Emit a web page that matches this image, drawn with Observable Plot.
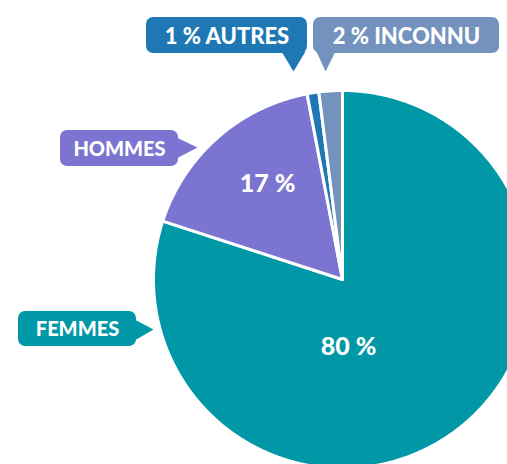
<!DOCTYPE html>
<html><head><meta charset="utf-8">
<script src="https://cdn.jsdelivr.net/npm/d3@7"></script>
<script src="https://cdn.jsdelivr.net/npm/@observablehq/plot@0.6"></script>
<style>
html,body{margin:0;padding:0;background:#fff;}
svg{font-family:Lato,"Open Sans",sans-serif;}
</style>
</head><body>
<div id="chart"></div>
<script>
// Data
const categories = ["FEMMES", "HOMMES", "AUTRES", "INCONNU"];
const values = [80, 17, 1, 2];
const colors = ["#0097A7", "#7B74D0", "#1F78B4", "#7392BE"];
const percentLabels = ["80 %", "17 %", "1 %", "2 %"];

// Layout (pixel space)
const W = 507, H = 464;
const cx = 342, cy = 279, R = 189;
const callouts = [
  {cat: "FEMMES",  text: "FEMMES",      x1: 18,  x2: 136, y1: 311, y2: 346, tip: [153, 329], base: [[134, 319], [134, 340]]},
  {cat: "HOMMES",  text: "HOMMES",      x1: 60,  x2: 178, y1: 130, y2: 166, tip: [197, 147], base: [[176, 137], [176, 158]]},
  {cat: "AUTRES",  text: "1 % AUTRES",  x1: 146, x2: 307, y1: 17,  y2: 53,  tip: [293, 71],  base: [[281, 51], [305, 51]]},
  {cat: "INCONNU", text: "2 % INCONNU", x1: 313, x2: 499, y1: 17,  y2: 53,  tip: [325, 71],  base: [[316, 51], [335, 51]]}
];
const insideLabels = [
  {cat: "FEMMES", x: 348, y: 346},
  {cat: "HOMMES", x: 267, y: 183}
];

const total = d3.sum(values);
const colorOf = Object.fromEntries(categories.map((c, i) => [c, colors[i]]));
const pctOf = Object.fromEntries(categories.map((c, i) => [c, percentLabels[i]]));

// slices: clockwise from 12 o'clock
let acc = 0;
const slices = categories.map((c, i) => {
  const a0 = acc / total * 2 * Math.PI;
  acc += values[i];
  const a1 = acc / total * 2 * Math.PI;
  const pts = [{x: cx, y: cy}];
  const n = Math.max(2, Math.ceil((a1 - a0) / (Math.PI / 360)));
  for (let k = 0; k <= n; k++) {
    const a = a0 + (a1 - a0) * k / n;
    pts.push({x: cx + R * Math.sin(a), y: cy - R * Math.cos(a)});
  }
  pts.push({x: cx, y: cy});
  return {cat: c, color: colors[i], pts};
});

const marks = [];
for (const s of slices) {
  marks.push(Plot.line(s.pts, {x: "x", y: "y", fill: s.color, stroke: "white", strokeWidth: 3, strokeLinejoin: "round"}));
}
for (const c of callouts) {
  const col = colorOf[c.cat];
  marks.push(Plot.rect([c], {x1: "x1", x2: "x2", y1: "y1", y2: "y2", rx: 7, fill: col}));
  const tri = [{x: c.base[0][0], y: c.base[0][1]}, {x: c.tip[0], y: c.tip[1]}, {x: c.base[1][0], y: c.base[1][1]}];
  marks.push(Plot.line(tri, {x: "x", y: "y", fill: col, stroke: "none"}));
  marks.push(Plot.text([c], {x: d => (d.x1 + d.x2) / 2, y: d => (d.y1 + d.y2) / 2 + 1, text: "text", fill: "white", fontSize: c.text.length > 7 ? 22 : 20, fontWeight: 900, textAnchor: "middle"}));
}
marks.push(Plot.text(insideLabels, {x: "x", y: "y", text: d => pctOf[d.cat], fill: "white", fontSize: 25, fontWeight: 900}));

const chart = Plot.plot({
  width: W, height: H,
  margin: 0,
  x: {domain: [0, W], range: [0, W], axis: null},
  y: {domain: [0, H], range: [0, H], axis: null},
  style: {background: "white", fontFamily: "Lato, 'Open Sans', sans-serif"},
  marks
});
document.getElementById("chart").appendChild(chart);
</script>
</body></html>
